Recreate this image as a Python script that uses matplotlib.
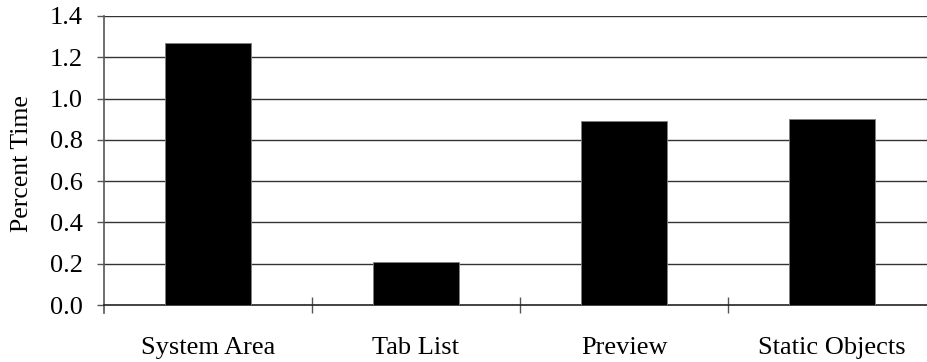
import matplotlib.pyplot as plt
import numpy as np

categories = ["System Area", "Tab List", "Preview", "Static Objects"]
percent_time = [1.27, 0.21, 0.89, 0.90]
y_ticks = [0.0, 0.2, 0.4, 0.6, 0.8, 1.0, 1.2, 1.4]

plt.rcParams["font.family"] = ["Liberation Serif", "DejaVu Serif"]

W, H = 927, 362
fig = plt.figure(figsize=(W / 100, H / 100), dpi=100)
left, right, top, bottom = 104, 936, 16, 305
ax = fig.add_axes([left / W, (H - bottom) / H, (right - left) / W, (bottom - top) / H])

x = np.arange(len(categories))
ax.bar(x, percent_time, width=0.41, color="black", edgecolor="#808080",
       linewidth=0.6, zorder=3)

ax.set_xlim(-0.5, len(categories) - 0.5)
ax.set_ylim(0, 1.4)
ax.set_yticks(y_ticks)
ax.set_yticklabels([f"{v:.1f}" for v in y_ticks])
ax.set_xticks(x)
ax.set_xticklabels(categories)
ax.set_xticks(np.arange(0.5, len(categories) - 0.5), minor=True)

for v in y_ticks[1:]:
    ax.axhline(v, color="#333333", linewidth=1.0, zorder=1)

for side in ("top", "right"):
    ax.spines[side].set_visible(False)
ax.spines["left"].set_color("#555555")
ax.spines["left"].set_linewidth(1.2)
ax.spines["left"].set_bounds(-0.04, 1.4)
ax.spines["bottom"].set_color("#222222")
ax.spines["bottom"].set_linewidth(1.2)

ax.tick_params(axis="y", length=5, width=1, color="#555555", pad=10,
               labelsize=19)
ax.tick_params(axis="x", which="major", length=0, pad=23, labelsize=19)
ax.tick_params(axis="x", which="minor", direction="inout", length=12,
               width=1, color="#555555")

fig.text(22 / W, 1 - 164 / H, "Percent Time", rotation=90, ha="center",
         va="center", fontsize=18.5)

fig.savefig("out.png", dpi=100)
